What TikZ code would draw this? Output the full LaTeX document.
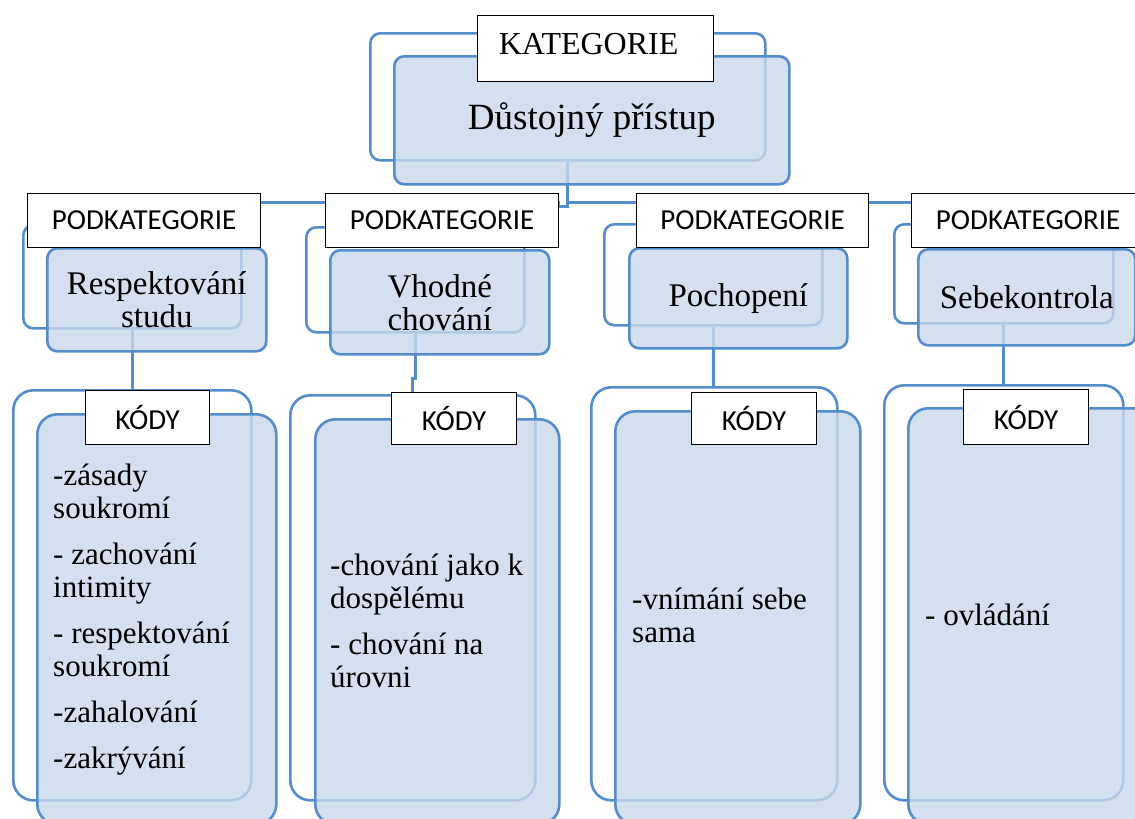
\documentclass[tikz,border=0pt]{standalone}
\usepackage{fontspec}
\setmainfont{Liberation Serif}
\newfontfamily\lblfont{Carlito}
\definecolor{edge}{RGB}{84,141,204}
\definecolor{shade}{RGB}{202,216,236}
\tikzset{
  backbox/.style={draw=edge, line width=2.6pt, rounded corners=10pt, anchor=north west, inner sep=0pt},
  frontbox/.style={draw=edge, line width=2.6pt, fill=shade, fill opacity=0.8, text opacity=1, rounded corners=10pt, anchor=north west, inner sep=0pt, align=center, font=\fontsize{33}{33}\selectfont},
  lbl/.style={draw=black, line width=1.2pt, fill=white, anchor=north west, inner sep=0pt, font=\lblfont\fontsize{29}{31}\selectfont},
  conn/.style={draw=edge, line width=3pt},
  codes/.style={anchor=north west, inner sep=0pt, align=left, font=\fontsize{31}{33}\selectfont},
}
\begin{document}
\begin{tikzpicture}[x=1pt,y=-1pt]
\useasboundingbox (0,0) rectangle (1135,819);
\clip (0,0) rectangle (1135,819);
\fill[white] (0,0) rectangle (1135,819);
% back outlines
\node[backbox, minimum width=395, minimum height=127] (katb) at (369,32) {};
\node[backbox, minimum width=218, minimum height=103] (p1b) at (22,224) {};
\node[backbox, minimum width=218, minimum height=105] (p2b) at (305,226) {};
\node[backbox, minimum width=218, minimum height=101] (p3b) at (603,223) {};
\node[backbox, minimum width=219, minimum height=99] (p4b) at (893,223) {};
\node[backbox, rounded corners=20pt, minimum width=238, minimum height=410] (c1b) at (12,389) {};
\node[backbox, rounded corners=20pt, minimum width=245, minimum height=405] (c2b) at (289,394) {};
\node[backbox, rounded corners=20pt, minimum width=246, minimum height=413] (c3b) at (590,386) {};
\node[backbox, rounded corners=20pt, minimum width=239, minimum height=415] (c4b) at (883,384) {};
% connectors
\coordinate (bus) at (0,202);
\coordinate (jog) at (558,206);
\draw[conn] (katb.south) |- (jog) |- (p1b.north |- bus) -- (p1b.north);
\draw[conn] (jog |- bus) -| (p2b.north);
\draw[conn] (katb.south |- bus) -| (p3b.north);
\draw[conn] (katb.south |- bus) -| (p4b.north);
\draw[conn] (p1b.south) -- (p1b.south |- c1b.north);
\draw[conn] (p2b.south) -- ++(0,45) -| (c2b.north);
\draw[conn] (p3b.south) -- (p3b.south |- c3b.north);
\draw[conn] (p4b.south) -- (p4b.south |- c4b.north);
% front boxes
\node[frontbox, minimum width=395, minimum height=128, font=\fontsize{37}{40}\selectfont] (katf) at (393,55) {Důstojný přístup};
\node[frontbox, minimum width=219, minimum height=103] (p1f) at (46,247) {Respektování\\studu};
\node[frontbox, minimum width=219, minimum height=104] (p2f) at (329,249) {Vhodné\\chování};
\node[frontbox, minimum width=218, minimum height=100] (p3f) at (628,247) {Pochopení};
\node[frontbox, minimum width=217, minimum height=96] (p4f) at (917,248) {Sebekontrola};
\node[frontbox, rounded corners=20pt, minimum width=239, minimum height=410] (c1f) at (36,413) {};
\node[frontbox, rounded corners=20pt, minimum width=244, minimum height=405] (c2f) at (314,418) {};
\node[frontbox, rounded corners=20pt, minimum width=245, minimum height=413] (c3f) at (614,410) {};
\node[frontbox, rounded corners=20pt, minimum width=245, minimum height=416] (c4f) at (907,407) {};
% labels
\node[lbl, minimum width=236, minimum height=66, font=\fontsize{32}{34}\selectfont] (katl) at (477,15) {\raisebox{10pt}{KATEGORIE}\kern14pt\relax};
\node[lbl, minimum width=233, minimum height=54] (p1l) at (27,193) {PODKATEGORIE};
\node[lbl, minimum width=233, minimum height=54] (p2l) at (325,193) {PODKATEGORIE};
\node[lbl, minimum width=232, minimum height=54] (p3l) at (636,193) {PODKATEGORIE};
\node[lbl, minimum width=233, minimum height=54] (p4l) at (911,193) {PODKATEGORIE};
\node[lbl, minimum width=124, minimum height=54] (c1l) at (85,390) {KÓDY};
\node[lbl, minimum width=125, minimum height=52] (c2l) at (391,392) {KÓDY};
\node[lbl, minimum width=125, minimum height=52] (c3l) at (691,392) {KÓDY};
\node[lbl, minimum width=125, minimum height=55] (c4l) at (963,389) {KÓDY};
% code texts
\node[codes] (t1) at (53,464) {-zásady\\soukromí\\[13pt]- zachování\\intimity\\[13pt]- respektování\\soukromí\\[13pt]-zahalování\\[13pt]-zakrývání};
\node[codes] (t2) at (330,554) {-chování jako k\\dospělému\\[13pt]- chování na\\úrovni};
\node[codes] (t3) at (632,588) {-vnímání sebe\\sama};
\node[codes] (t4) at (925,604) {- ovládání};
\end{tikzpicture}
\end{document}
